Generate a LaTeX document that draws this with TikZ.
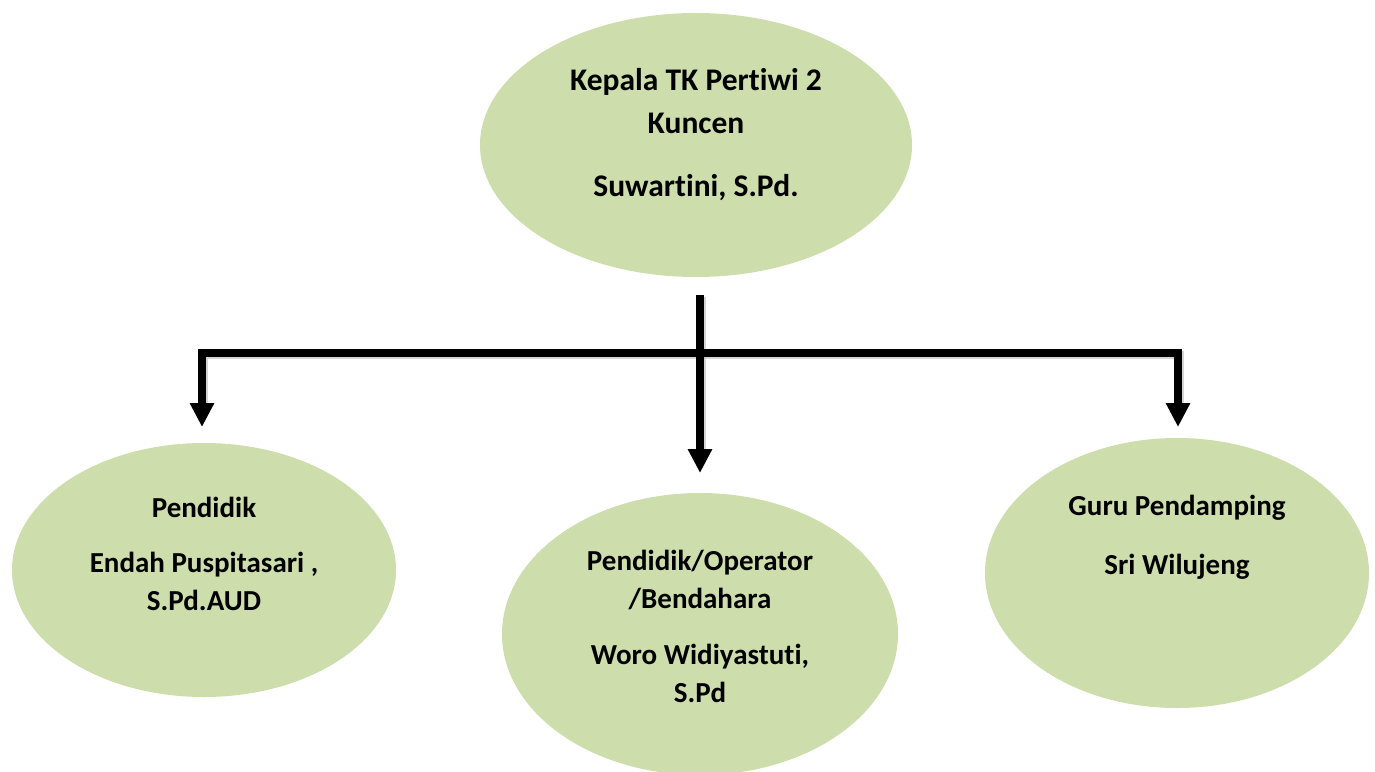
\documentclass[tikz,border=0pt]{standalone}
\usepackage{fontspec}
\setmainfont{Carlito}[Ligatures=NoCommon]
\usetikzlibrary{arrows.meta,shapes.geometric}
\definecolor{oval}{RGB}{205,221,172}
\definecolor{shade}{RGB}{185,185,185}
\tikzset{
  oval/.style={ellipse, fill=oval, draw=none, inner sep=0pt},
  txt/.style={align=center, inner sep=0pt, font=\bfseries\fontsize{29}{38}\selectfont, anchor=base},
  bigtxt/.style={txt, font=\bfseries\fontsize{31.5}{43}\selectfont},
  conn/.style={line width=7.5pt, draw=black, line join=miter},
  arr/.style={conn, -{Triangle[width=23pt,length=24pt]}},
  darr/.style={conn, {Triangle[width=23pt,length=24pt]}-{Triangle[width=23pt,length=24pt]}},
  shd/.style={line width=7.5pt, draw=shade, opacity=0.6, line join=miter},
}
\begin{document}
\begin{tikzpicture}[x=1pt,y=-1pt]
\useasboundingbox (0,0) rectangle (1375,771);
\clip (0,0) rectangle (1375,771);
% ovals
\node[oval, minimum width=432pt, minimum height=264pt] (head) at (696,145) {};
\node[oval, minimum width=384pt, minimum height=254pt] (left) at (204,570) {};
\node[oval, minimum width=396pt, minimum height=282pt] (mid) at (700,634) {};
\node[oval, minimum width=384pt, minimum height=270pt] (right) at (1177,573) {};
% texts (anchored at the baseline of their last line)
\node[bigtxt] (headtxt) at (696,196) {Kepala TK Pertiwi 2\\Kuncen\\[20pt]Suwartini, S.Pd.};
\node[txt] (lefttxt) at (204,610) {Pendidik\\[17pt]Endah Puspitasari ,\\S.Pd.AUD};
\node[txt] (midtxt) at (700,702) {Pendidik/Operator\\/Bendahara\\[18pt]Woro Widiyastuti,\\S.Pd};
\node[txt] (righttxt) at (1177,574) {Guru Pendamping\\[21pt]Sri Wilujeng};
% connector points
\coordinate (trunk) at (700,295);
\coordinate (midtip) at (700,473);
\coordinate (lcorner) at (202,353);
\coordinate (rcorner) at (1178,353);
\coordinate (ltip) at (202,427);
\coordinate (rtip) at (1178,427);
% shadows
\draw[shd] ([shift={(2,2)}]trunk) -- ([shift={(2,-20)}]midtip);
\draw[shd] ([shift={(2,-20)}]ltip) -- ([shift={(2,2)}]lcorner) -- ([shift={(2,2)}]rcorner) -- ([shift={(2,-20)}]rtip);
% connectors
\draw[arr] (trunk) -- (midtip);
\draw[darr] (ltip) -- (lcorner) -- (rcorner) -- (rtip);
\end{tikzpicture}
\end{document}
